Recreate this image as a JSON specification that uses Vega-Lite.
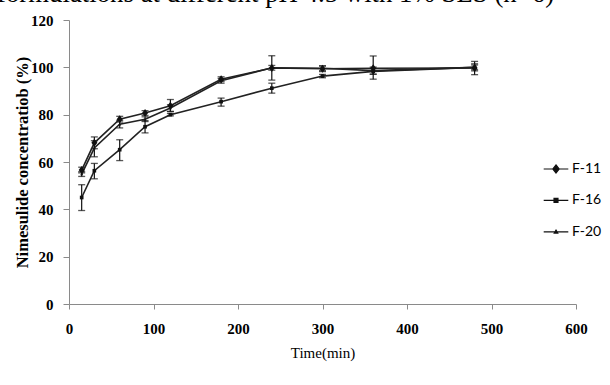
{
  "$schema": "https://vega.github.io/schema/vega-lite/v6.json",
  "width": 507,
  "height": 284,
  "autosize": {"type": "none"},
  "padding": {"left": 69, "top": 20, "right": 34, "bottom": 81},
  "background": "white",
  "title": {
    "text": "formulations at different pH 4.5 with 1% SLS (n=6)",
    "font": "Liberation Serif",
    "fontSize": 26.8,
    "fontWeight": "normal",
    "color": "#000",
    "anchor": "start",
    "frame": "group",
    "baseline": "alphabetic",
    "offset": 0,
    "dx": -72,
    "dy": 16
  },
  "config": {
    "view": {"stroke": null},
    "axis": {
      "grid": false,
      "domainColor": "#8a8a8a",
      "tickColor": "#8a8a8a",
      "labelColor": "#000",
      "titleColor": "#000",
      "labelFont": "Liberation Serif",
      "titleFont": "Liberation Serif",
      "labelFontSize": 15,
      "titleFontSize": 15
    }
  },
  "data": {
    "values": [
      {"t": 15, "s": "F-11", "v": 56.6, "lo": 55.4, "hi": 57.8},
      {"t": 30, "s": "F-11", "v": 68.1, "lo": 65.6, "hi": 70.6},
      {"t": 60, "s": "F-11", "v": 78.1, "lo": 76.9, "hi": 79.3},
      {"t": 90, "s": "F-11", "v": 80.7, "lo": 79.7, "hi": 81.7},
      {"t": 120, "s": "F-11", "v": 83.8, "lo": 81.3, "hi": 86.4},
      {"t": 180, "s": "F-11", "v": 95.0, "lo": 94.0, "hi": 96.0},
      {"t": 240, "s": "F-11", "v": 99.7, "lo": 94.6, "hi": 104.9},
      {"t": 300, "s": "F-11", "v": 99.4, "lo": 98.2, "hi": 100.6},
      {"t": 360, "s": "F-11", "v": 99.6, "lo": 95.0, "hi": 104.8},
      {"t": 480, "s": "F-11", "v": 99.7, "lo": 96.9, "hi": 102.5},
      {"t": 15, "s": "F-16", "v": 45.0, "lo": 39.5, "hi": 50.4},
      {"t": 30, "s": "F-16", "v": 56.3, "lo": 52.9, "hi": 59.4},
      {"t": 60, "s": "F-16", "v": 65.2, "lo": 60.6, "hi": 69.4},
      {"t": 90, "s": "F-16", "v": 74.9, "lo": 72.3, "hi": 77.5},
      {"t": 120, "s": "F-16", "v": 80.0, "lo": 79.5, "hi": 80.5},
      {"t": 180, "s": "F-16", "v": 85.5, "lo": 83.6, "hi": 87.0},
      {"t": 240, "s": "F-16", "v": 91.2, "lo": 89.1, "hi": 93.3},
      {"t": 300, "s": "F-16", "v": 96.3, "lo": 95.6, "hi": 97.0},
      {"t": 360, "s": "F-16", "v": 98.3, "lo": 97.1, "hi": 99.5},
      {"t": 480, "s": "F-16", "v": 100.0, "lo": 99.0, "hi": 101.0},
      {"t": 15, "s": "F-20", "v": 54.9, "lo": 53.9, "hi": 55.9},
      {"t": 30, "s": "F-20", "v": 65.9, "lo": 62.2, "hi": 69.0},
      {"t": 60, "s": "F-20", "v": 76.0, "lo": 74.4, "hi": 77.6},
      {"t": 90, "s": "F-20", "v": 78.1, "lo": 77.1, "hi": 79.1},
      {"t": 120, "s": "F-20", "v": 82.8, "lo": 81.4, "hi": 84.2},
      {"t": 180, "s": "F-20", "v": 94.3, "lo": 93.3, "hi": 95.3},
      {"t": 240, "s": "F-20", "v": 99.8, "lo": 98.8, "hi": 100.8},
      {"t": 300, "s": "F-20", "v": 99.6, "lo": 98.6, "hi": 100.6},
      {"t": 360, "s": "F-20", "v": 98.6, "lo": 97.1, "hi": 100.1},
      {"t": 480, "s": "F-20", "v": 100.0, "lo": 98.5, "hi": 101.5}
    ]
  },
  "resolve": {"scale": {"shape": "independent"}, "legend": {"shape": "independent"}},
  "layer": [
    {
      "mark": {"type": "rule", "color": "#111", "strokeWidth": 1.2},
      "encoding": {
        "x": {"field": "t", "type": "quantitative"},
        "y": {"field": "lo", "type": "quantitative"},
        "y2": {"field": "hi"}
      }
    },
    {
      "mark": {"type": "tick", "orient": "horizontal", "color": "#111", "size": 7, "thickness": 1.3},
      "encoding": {
        "x": {"field": "t", "type": "quantitative"},
        "y": {"field": "lo", "type": "quantitative"}
      }
    },
    {
      "mark": {"type": "tick", "orient": "horizontal", "color": "#111", "size": 7, "thickness": 1.3},
      "encoding": {
        "x": {"field": "t", "type": "quantitative"},
        "y": {"field": "hi", "type": "quantitative"}
      }
    },
    {
      "mark": {"type": "line", "color": "#222", "strokeWidth": 1.6},
      "encoding": {
        "x": {
          "field": "t", "type": "quantitative",
          "scale": {"domain": [0, 600], "nice": false},
          "axis": {"values": [0, 100, 200, 300, 400, 500, 600], "title": "Time(min)", "titleFontWeight": "normal", "labelFontWeight": "bold", "tickSize": 5, "labelPadding": 12, "titlePadding": 9, "labelFlush": false}
        },
        "y": {
          "field": "v", "type": "quantitative",
          "scale": {"domain": [0, 120], "nice": false},
          "axis": {"values": [0, 20, 40, 60, 80, 100, 120], "title": "Nimesulide concentratiob (%)", "titleFontWeight": "bold", "titleFontSize": 16.5, "labelFontWeight": "bold", "tickSize": 6, "labelPadding": 10, "titlePadding": 0}
        },
        "detail": {"field": "s"}
      }
    },
    {
      "mark": {"type": "point", "filled": true, "color": "#111", "opacity": 1},
      "encoding": {
        "x": {"field": "t", "type": "quantitative"},
        "y": {"field": "v", "type": "quantitative"},
        "shape": {
          "field": "s", "type": "nominal", "legend": null,
          "scale": {"domain": ["F-11", "F-16", "F-20"], "range": ["M0,-1L0.75,0L0,1L-0.75,0Z", "M-0.55,-0.55H0.55V0.55H-0.55Z", "M0,-0.6L0.6,0.5H-0.6Z"]}
        },
        "size": {
          "field": "s", "type": "nominal", "legend": null,
          "scale": {"domain": ["F-11", "F-16", "F-20"], "range": [64, 25, 25]}
        }
      }
    },
    {
      "transform": [{"filter": "datum.t < 0"}],
      "mark": {"type": "point", "filled": false, "color": "#111", "fill": "#111", "stroke": "#111", "fillOpacity": 1, "opacity": 1, "strokeWidth": 1.2, "size": 605},
      "encoding": {
        "x": {"field": "t", "type": "quantitative"},
        "y": {"field": "v", "type": "quantitative"},
        "shape": {
          "field": "s", "type": "nominal",
          "scale": {"domain": ["F-11", "F-16", "F-20"], "range": ["M-1,0H1M0,-0.33L0.26,0L0,0.33L-0.26,0Z", "M-1,0H1M-0.16,-0.16H0.16V0.16H-0.16Z", "M-1,0H1M0,-0.14L0.14,0.1H-0.14Z"]},
          "legend": {
            "title": null,
            "orient": "none",
            "legendX": 474,
            "legendY": 136,
            "labelFont": "Lato",
            "labelFontSize": 14,
            "labelColor": "#000",
            "labelOffset": 3,
            "rowPadding": 11.4,
            "symbolSize": 605,
            "symbolStrokeWidth": 1.2,
            "symbolFillColor": "#111",
            "padding": 0
          }
        }
      }
    }
  ]
}
